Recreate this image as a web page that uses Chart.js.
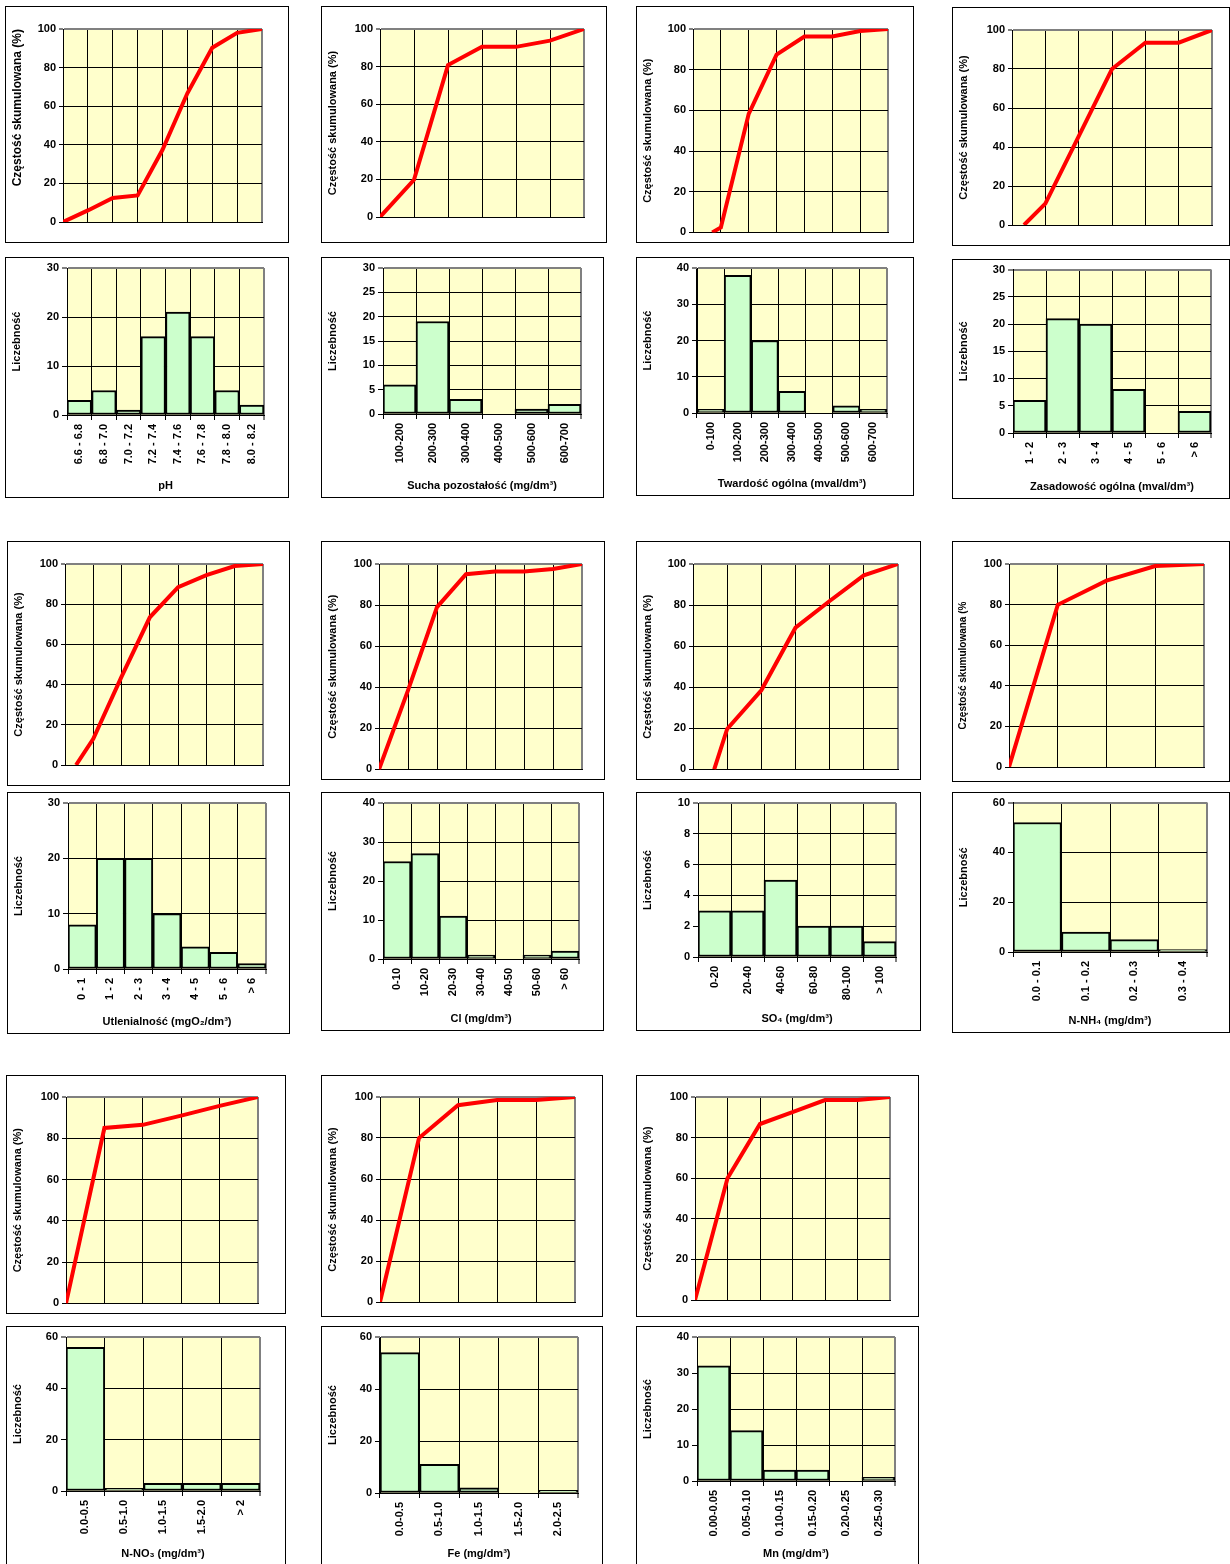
<!DOCTYPE html>
<html>
<head>
<meta charset="utf-8">
<script src="https://cdn.jsdelivr.net/npm/chart.js@4.4.1/dist/chart.umd.min.js"></script>
<style>
body { margin: 0; background: #fff; width: 1230px; height: 1564px; position: relative; overflow: hidden; }
.panel { position: absolute; border: 1px solid #000; background: #fff; }
.panel canvas { position: absolute; left: 0; top: 0; }
</style>
</head>
<body>
<script>
// --- dane ---
const phLabels = ['6.6 - 6.8', '6.8 - 7.0', '7.0 - 7.2', '7.2 - 7.4', '7.4 - 7.6', '7.6 - 7.8', '7.8 - 8.0', '8.0 - 8.2'];
const phCounts = [3, 5, 1, 16, 21, 16, 5, 2];
const phCumX = [0, 1, 2, 3, 4, 5, 6, 7, 8];
const phCum = [0, 6, 12.4, 13.8, 37.4, 66.7, 90.3, 98, 100];

const suchaLabels = ['100-200', '200-300', '300-400', '400-500', '500-600', '600-700'];
const suchaCounts = [6, 19, 3, 0, 1, 2];
const suchaCumX = [0, 1, 2, 3, 4, 5, 6];
const suchaCum = [0, 19.8, 80.8, 90.5, 90.5, 93.8, 100];

const twLabels = ['0-100', '100-200', '200-300', '300-400', '400-500', '500-600', '600-700'];
const twCounts = [1, 38, 20, 6, 0, 2, 1];
const twCumX = [0.69, 1, 2, 3, 4, 5, 6, 7];
const twCum = [0, 2.4, 58.3, 87.4, 96.3, 96.3, 99, 100];

const zasLabels = ['1 - 2', '2 - 3', '3 - 4', '4 - 5', '5 - 6', '> 6'];
const zasCounts = [6, 21, 20, 8, 0, 4];
const zasCumX = [0.36, 1, 2, 3, 4, 5, 6];
const zasCum = [0, 11, 45.5, 80, 93.5, 93.5, 100];

const utlLabels = ['0 - 1', '1 - 2', '2 - 3', '3 - 4', '4 - 5', '5 - 6', '> 6'];
const utlCounts = [8, 20, 20, 10, 4, 3, 1];
const utlCumX = [0.39, 1, 2, 3, 4, 5, 6, 7];
const utlCum = [0, 13, 44, 73.5, 88.5, 94.5, 99, 100];

const clLabels = ['0-10', '10-20', '20-30', '30-40', '40-50', '50-60', '> 60'];
const clCounts = [25, 27, 11, 1, 0, 1, 2];
const clCumX = [0, 1, 2, 3, 4, 5, 6, 7];
const clCum = [0, 38.5, 79, 95, 96.3, 96.3, 97.6, 100];

const so4Labels = ['0-20', '20-40', '40-60', '60-80', '80-100', '> 100'];
const so4Counts = [3, 3, 5, 2, 2, 1];
const so4CumX = [0.62, 1, 2, 3, 4, 5, 6];
const so4Cum = [0, 19.7, 38.5, 69, 82, 94.5, 100];

const nh4Labels = ['0.0 - 0.1', '0.1 - 0.2', '0.2 - 0.3', '0.3 - 0.4'];
const nh4Counts = [52, 8, 5, 1];
const nh4CumX = [0, 1, 2, 3, 4];
const nh4Cum = [0, 79.9, 91.8, 99, 100];

const no3Labels = ['0.0-0.5', '0.5-1.0', '1.0-1.5', '1.5-2.0', '> 2'];
const no3Counts = [56, 1, 3, 3, 3];
const no3CumX = [0, 1, 2, 3, 4, 5];
const no3Cum = [0, 85, 86.5, 91, 95.7, 100];

const feLabels = ['0.0-0.5', '0.5-1.0', '1.0-1.5', '1.5-2.0', '2.0-2.5'];
const feCounts = [54, 11, 2, 0, 1];
const feCumX = [0, 1, 2, 3, 4, 5];
const feCum = [0, 80, 96, 98.5, 98.5, 100];

const mnLabels = ['0.00-0.05', '0.05-0.10', '0.10-0.15', '0.15-0.20', '0.20-0.25', '0.25-0.30'];
const mnCounts = [32, 14, 3, 3, 0, 1];
const mnCumX = [0, 1, 2, 3, 4, 5, 6];
const mnCum = [0, 60, 86.7, 92.6, 98.5, 98.5, 100];

const cumTitle = 'Częstość skumulowana (%)';
const histTitle = 'Liczebność';

// --- ustawienia wspolne ---
Chart.defaults.font.family = 'Arial, "Liberation Sans", sans-serif';
Chart.defaults.font.weight = 'bold';
Chart.defaults.font.size = 11;
Chart.defaults.color = '#000';

const plotBg = {
    id: 'plotBg',
    beforeDraw(chart) {
        const a = chart.chartArea;
        const ctx = chart.ctx;
        ctx.save();
        ctx.fillStyle = '#FFFFCC';
        ctx.fillRect(a.left, a.top, a.right - a.left, a.bottom - a.top);
        ctx.restore();
    }
};

// box = ramka [lewo, gora, prawo, dol], plot = obszar wykresu
function makeCanvas(box) {
    const div = document.createElement('div');
    div.className = 'panel';
    div.style.left = box[0] + 'px';
    div.style.top = box[1] + 'px';
    div.style.width = (box[2] - box[0] - 1) + 'px';
    div.style.height = (box[3] - box[1] - 1) + 'px';
    const canvas = document.createElement('canvas');
    canvas.width = box[2] - box[0] - 1;
    canvas.height = box[3] - box[1] - 1;
    div.appendChild(canvas);
    document.body.appendChild(div);
    return canvas;
}

function cumChart(box, plot, xs, ys, n, title, titleSize, titleAlign) {
    const canvas = makeCanvas(box);
    new Chart(canvas, {
        type: 'line',
        data: {
            datasets: [{
                data: xs.map((x, i) => ({ x: x, y: ys[i] })),
                borderColor: '#FF0000',
                borderWidth: 4,
                pointRadius: 0,
                tension: 0
            }]
        },
        options: {
            responsive: false,
            animation: false,
            layout: { padding: { top: plot[1] - box[1] - 1, right: box[2] - plot[2], left: 0, bottom: 0 } },
            plugins: { legend: { display: false }, tooltip: { enabled: false } },
            scales: {
                x: {
                    type: 'linear', min: 0, max: n,
                    ticks: { display: false, stepSize: 1 },
                    grid: {
                        drawTicks: false,
                        color: c => (c.tick && c.tick.value === n) ? '#808080' : '#000',
                        lineWidth: c => (c.tick && c.tick.value === n) ? 2 : 1
                    },
                    border: { color: '#000', width: 1 },
                    afterFit: s => { s.height = box[3] - plot[3]; }
                },
                y: {
                    min: 0, max: 100,
                    ticks: { stepSize: 20, padding: 3 },
                    grid: {
                        tickLength: 4,
                        color: c => (c.tick && c.tick.value === 100) ? '#808080' : '#000',
                        lineWidth: c => (c.tick && c.tick.value === 100) ? 2 : 1
                    },
                    border: { color: '#000', width: 1 },
                    title: {
                        display: true, text: title, align: titleAlign || 'center',
                        font: { size: titleSize || 11 }, padding: { top: 4, bottom: 0 }
                    },
                    afterFit: s => { s.width = plot[0] - box[0] - 1; }
                }
            }
        },
        plugins: [plotBg]
    });
}

function histChart(box, plot, labels, counts, yMax, yStep, xTitle) {
    const canvas = makeCanvas(box);
    new Chart(canvas, {
        type: 'bar',
        data: {
            labels: labels,
            datasets: [{
                data: counts,
                backgroundColor: '#CCFFCC',
                borderColor: '#000',
                borderWidth: 2,
                borderSkipped: false,
                barPercentage: 1,
                categoryPercentage: 1
            }]
        },
        options: {
            responsive: false,
            animation: false,
            layout: { padding: { top: plot[1] - box[1] - 1, right: box[2] - plot[2], left: 0, bottom: 0 } },
            plugins: { legend: { display: false }, tooltip: { enabled: false } },
            scales: {
                x: {
                    ticks: { autoSkip: false, minRotation: 90, maxRotation: 90, padding: 4 },
                    grid: {
                        offset: true,
                        tickLength: 5,
                        color: c => c.type === 'scale' ? '#808080' : '#000',
                        lineWidth: c => c.type === 'scale' ? 2 : 1
                    },
                    border: { color: '#000', width: 1 },
                    title: { display: true, text: xTitle, padding: { top: 0, bottom: 4 } },
                    afterFit: s => { s.height = box[3] - plot[3]; }
                },
                y: {
                    min: 0, max: yMax,
                    ticks: { stepSize: yStep, padding: 3 },
                    grid: {
                        tickLength: 5,
                        color: c => (c.tick && c.tick.value === yMax) ? '#808080' : '#000',
                        lineWidth: c => (c.tick && c.tick.value === yMax) ? 2 : 1
                    },
                    border: { color: '#000', width: 1 },
                    title: { display: true, text: histTitle, padding: { top: 4, bottom: 0 } },
                    afterFit: s => { s.width = plot[0] - box[0] - 1; }
                }
            }
        },
        plugins: [plotBg]
    });
}

// wiersz 1
cumChart([5, 6, 288, 242], [63, 29, 262, 222], phCumX, phCum, 8, cumTitle, 12, 'end');
histChart([5, 257, 288, 497], [67, 268, 264, 415], phLabels, phCounts, 30, 10, 'pH');
cumChart([321, 6, 606, 242], [380, 29, 584, 217], suchaCumX, suchaCum, 6, cumTitle);
histChart([321, 257, 603, 497], [383, 268, 581, 414], suchaLabels, suchaCounts, 30, 5, 'Sucha pozostałość (mg/dm³)');
cumChart([636, 6, 913, 242], [693, 29, 888, 235], twCumX, twCum, 7, cumTitle);
histChart([636, 257, 913, 495], [697, 268, 887, 413], twLabels, twCounts, 40, 10, 'Twardość ogólna (mval/dm³)');
cumChart([952, 7, 1229, 245], [1012, 30, 1212, 225], zasCumX, zasCum, 6, cumTitle);
histChart([952, 259, 1229, 498], [1013, 269, 1211, 433], zasLabels, zasCounts, 30, 5, 'Zasadowość ogólna (mval/dm³)');

// wiersz 2
cumChart([7, 541, 289, 785], [65, 564, 263, 765], utlCumX, utlCum, 7, cumTitle);
histChart([7, 792, 289, 1033], [68, 803, 266, 969], utlLabels, utlCounts, 30, 10, 'Utlenialność (mgO₂/dm³)');
cumChart([321, 541, 604, 779], [379, 564, 582, 771], clCumX, clCum, 7, cumTitle);
histChart([321, 792, 603, 1030], [383, 803, 579, 959], clLabels, clCounts, 40, 10, 'Cl (mg/dm³)');
cumChart([636, 541, 920, 779], [693, 564, 898, 771], so4CumX, so4Cum, 6, cumTitle);
histChart([636, 792, 920, 1030], [698, 803, 896, 957], so4Labels, so4Counts, 10, 2, 'SO₄ (mg/dm³)');
cumChart([952, 541, 1229, 781], [1009, 564, 1204, 767], nh4CumX, nh4Cum, 4, 'Częstość skumulowana (%', 10);
histChart([952, 792, 1229, 1032], [1013, 802, 1207, 952], nh4Labels, nh4Counts, 60, 20, 'N-NH₄ (mg/dm³)');

// wiersz 3
cumChart([6, 1075, 285, 1313], [66, 1097, 258, 1305], no3CumX, no3Cum, 5, cumTitle);
histChart([6, 1326, 285, 1565], [66, 1337, 260, 1491], no3Labels, no3Counts, 60, 20, 'N-NO₃ (mg/dm³)');
cumChart([321, 1075, 602, 1316], [380, 1097, 575, 1302], feCumX, feCum, 5, cumTitle);
histChart([321, 1326, 602, 1565], [380, 1337, 578, 1493], feLabels, feCounts, 60, 20, 'Fe (mg/dm³)');
cumChart([636, 1075, 918, 1316], [695, 1097, 890, 1300], mnCumX, mnCum, 6, cumTitle);
histChart([636, 1326, 918, 1565], [697, 1337, 895, 1481], mnLabels, mnCounts, 40, 10, 'Mn (mg/dm³)');
</script>
</body>
</html>
